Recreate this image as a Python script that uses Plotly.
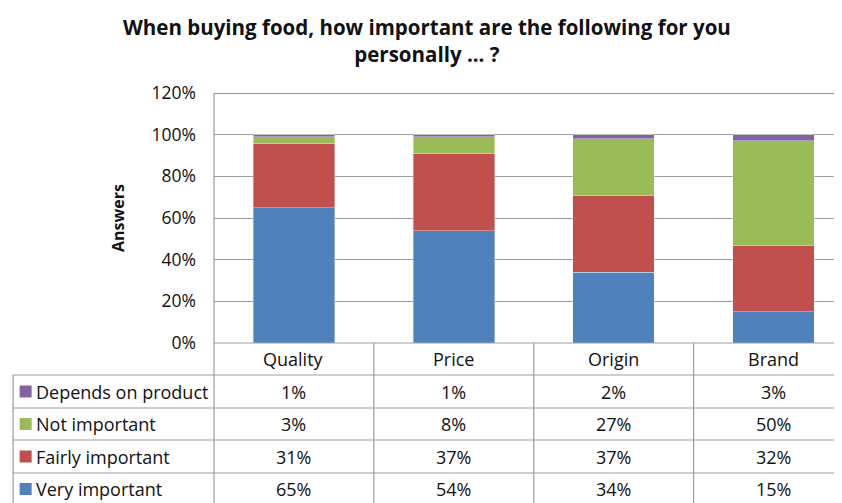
import plotly.graph_objects as go

categories = ["Quality", "Price", "Origin", "Brand"]
series_names = ["Very important", "Fairly important", "Not important", "Depends on product"]
very_important = [65, 54, 34, 15]
fairly_important = [31, 37, 37, 32]
not_important = [3, 8, 27, 50]
depends_on_product = [1, 1, 2, 3]
series_values = [very_important, fairly_important, not_important, depends_on_product]
colors = ["#4F81BD", "#C0504D", "#9BBB59", "#8064A2"]
y_ticks = [0, 0.2, 0.4, 0.6, 0.8, 1.0, 1.2]
title_text = "When buying food, how important are the following for you<br>personally ... ?"

OFF = 8  # default page body margin
W, H = 842 - OFF, 503 - OFF
L, R, T = 213.5 - OFF, 0, 93 - OFF
B = H - (343 - OFF)
PW = W - L - R
PH = H - T - B


def px_x(px):
    return (px - OFF - L) / PW


def px_y(py):
    return (T + PH - (py - OFF)) / PH


FONT = "Open Sans, Lato, sans-serif"

fig = go.Figure()
for name, vals, col in zip(series_names, series_values, colors):
    fig.add_trace(go.Bar(
        x=categories, y=[v / 100 for v in vals], name=name,
        marker=dict(color=col, line=dict(color="rgba(255,255,255,0.6)", width=0.6)),
        width=0.51, showlegend=False,
    ))

shapes = []
annotations = []
grid_col = "#9E9E9E"

# top frame line of plot area
shapes.append(dict(type="line", xref="paper", yref="y", x0=0, x1=1, y0=1.2, y1=1.2,
                   line=dict(color="#8094B2", width=2)))
# left border of plot and header row
shapes.append(dict(type="line", xref="paper", yref="paper", x0=0, x1=0, y0=1, y1=px_y(375),
                   line=dict(color=grid_col, width=1.2)))

# table horizontal lines
row_lines = [375, 408, 440, 473]
shapes.append(dict(type="line", xref="paper", yref="paper", x0=0, x1=1, y0=0, y1=0,
                   line=dict(color=grid_col, width=1.2)))
for ry in row_lines:
    shapes.append(dict(type="line", xref="paper", yref="paper", x0=px_x(12), x1=1,
                       y0=px_y(ry), y1=px_y(ry), line=dict(color=grid_col, width=1.2)))
# table left border and legend column divider
shapes.append(dict(type="line", xref="paper", yref="paper", x0=px_x(12.5), x1=px_x(12.5),
                   y0=px_y(375), y1=px_y(506), line=dict(color=grid_col, width=1.2)))
shapes.append(dict(type="line", xref="paper", yref="paper", x0=0, x1=0,
                   y0=px_y(375), y1=px_y(506), line=dict(color=grid_col, width=1.2)))
# column dividers
for i in range(len(categories) - 1):
    shapes.append(dict(type="line", xref="x", yref="paper", x0=i + 0.5, x1=i + 0.5,
                       y0=0, y1=px_y(506), line=dict(color=grid_col, width=1.2)))

font_txt = dict(family=FONT, size=18, color="#111111")

# chart title
annotations.append(dict(x=px_x(427), y=px_y(40), xref="paper", yref="paper", text=title_text,
                        showarrow=False, xanchor="center", yanchor="middle", align="center",
                        font=dict(family=FONT, size=20.5, color="#111111", weight="bold")))

# header row: categories
for i, c in enumerate(categories):
    annotations.append(dict(x=i, y=px_y(359), xref="x", yref="paper", text=c,
                            showarrow=False, font=font_txt, xanchor="center", yanchor="middle"))

# table rows (top to bottom: Depends, Not, Fairly, Very)
row_centers = [391.5, 424, 456.5, 489]
for k, idx in enumerate([3, 2, 1, 0]):
    cy = row_centers[k]
    shapes.append(dict(type="rect", xref="paper", yref="paper",
                       x0=px_x(19), x1=px_x(31), y0=px_y(cy - 6), y1=px_y(cy + 6),
                       fillcolor=colors[idx], line=dict(width=0)))
    annotations.append(dict(x=px_x(33), y=px_y(cy), xref="paper", yref="paper",
                            text=series_names[idx], showarrow=False, font=font_txt,
                            xanchor="left", yanchor="middle"))
    for i, v in enumerate(series_values[idx]):
        annotations.append(dict(x=i, y=px_y(cy), xref="x", yref="paper", text=f"{v}%",
                                showarrow=False, font=font_txt, xanchor="center", yanchor="middle"))

fig.update_layout(
    width=W, height=H,
    margin=dict(l=L, r=R, t=T, b=B, pad=0),
    paper_bgcolor="white", plot_bgcolor="white",
    barmode="stack", bargap=0.49,
    xaxis=dict(range=[-0.5, 3.5 - 11.5 / 160], showticklabels=False, showgrid=False,
               zeroline=False, showline=False, ticks=""),
    yaxis=dict(range=[0, 1.2], tickvals=y_ticks, tickformat=".0%", showgrid=True,
               gridcolor=grid_col, gridwidth=1.2, zeroline=False, showline=False, ticks="",
               ticklabelstandoff=17,
               tickfont=dict(family=FONT, size=17.5, color="#111111"),
               title=dict(text="<b>Answers</b>", standoff=22,
                          font=dict(family=FONT, size=16, color="#111111"))),
    shapes=shapes, annotations=annotations,
)

fig.write_html("out.html")
